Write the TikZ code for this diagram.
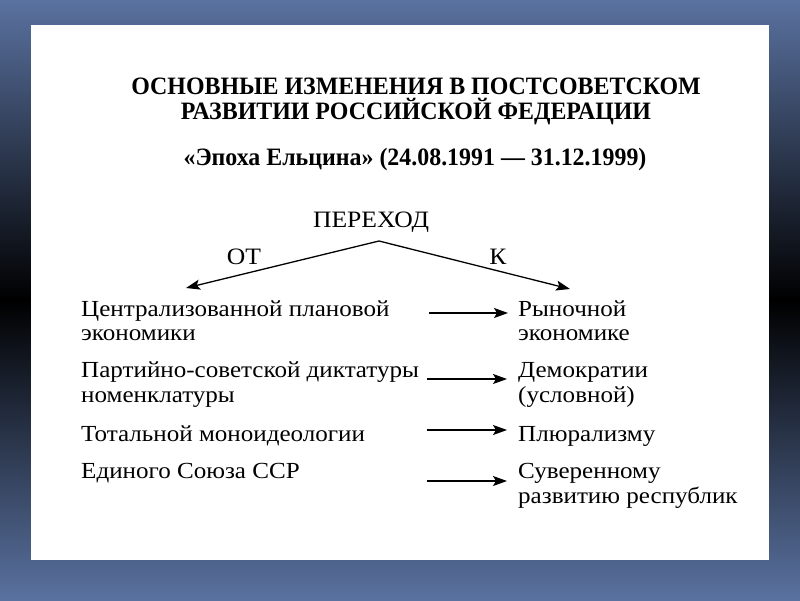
\documentclass[tikz,border=0pt]{standalone}
\usepackage{fontspec}
\setmainfont{Liberation Serif}
\newfontfamily\bodyfont[FakeStretch=1.09]{Liberation Serif}
\newfontfamily\titlefont[FakeStretch=0.956]{Liberation Serif}
\usetikzlibrary{arrows.meta}
\definecolor{bgblue}{HTML}{5A72A0}
\begin{document}
\begin{tikzpicture}[x=1pt,y=-1pt,
  ttl/.style={anchor=base, inner sep=0pt, font=\titlefont\fontsize{25}{27}\selectfont\bfseries},
  txt/.style={anchor=base west, inner sep=0pt, font=\bodyfont\fontsize{23}{27}\selectfont},
  lbl/.style={anchor=base, inner sep=0pt, font=\bodyfont\fontsize{23.5}{27}\selectfont},
  arr/.style={-{Stealth[length=14pt,width=10pt,inset=3pt]}, line width=1.3pt}]
\useasboundingbox (0,0) rectangle (800,600);
\shade[top color=bgblue, bottom color=bgblue, middle color=black] (0,0) rectangle (800,600);
\fill[white] (31,25) rectangle (769,560);
% titles
\node[ttl] (t1) at (416,94) {ОСНОВНЫЕ ИЗМЕНЕНИЯ В ПОСТСОВЕТСКОМ};
\node[ttl] (t2) at (416,119) {РАЗВИТИИ РОССИЙСКОЙ ФЕДЕРАЦИИ};
\node[ttl] (t3) at (415,165) {«Эпоха Ельцина» (24.08.1991 — 31.12.1999)};
\node[lbl] (per) at (371,227) {ПЕРЕХОД};
\node[lbl] (ot) at (244,264) {ОТ};
\node[lbl] (k) at (498,264) {К};
\coordinate (apex) at (379,241);
\coordinate (lt) at (186,288);
\coordinate (rt) at (570,289);
\draw[arr] (apex) -- (lt);
\draw[arr] (apex) -- (rt);
% left column
\node[txt] (l1a) at (81,316) {Централизованной плановой};
\node[txt] (l1b) at (81,340) {экономики};
\node[txt] (l2a) at (81,377) {Партийно-советской диктатуры};
\node[txt] (l2b) at (81,402) {номенклатуры};
\node[txt] (l3) at (81,441) {Тотальной моноидеологии};
\node[txt] (l4) at (81,478) {Единого Союза ССР};
% right column
\node[txt] (r1a) at (518,316) {Рыночной};
\node[txt] (r1b) at (518,340) {экономике};
\node[txt] (r2a) at (518,377) {Демократии};
\node[txt] (r2b) at (518,402) {(условной)};
\node[txt] (r3) at (518,441) {Плюрализму};
\node[txt] (r4a) at (518,478) {Суверенному};
\node[txt] (r4b) at (518,503) {развитию республик};
% row arrows
\coordinate (a1s) at (429,313); \coordinate (a1e) at (508,313);
\coordinate (a2s) at (427,379); \coordinate (a2e) at (507,379);
\coordinate (a3s) at (427,430); \coordinate (a3e) at (507,430);
\coordinate (a4s) at (427,481); \coordinate (a4e) at (507,481);
\draw[arr] (a1s) -- (a1e);
\draw[arr] (a2s) -- (a2e);
\draw[arr] (a3s) -- (a3e);
\draw[arr] (a4s) -- (a4e);
\end{tikzpicture}
\end{document}
